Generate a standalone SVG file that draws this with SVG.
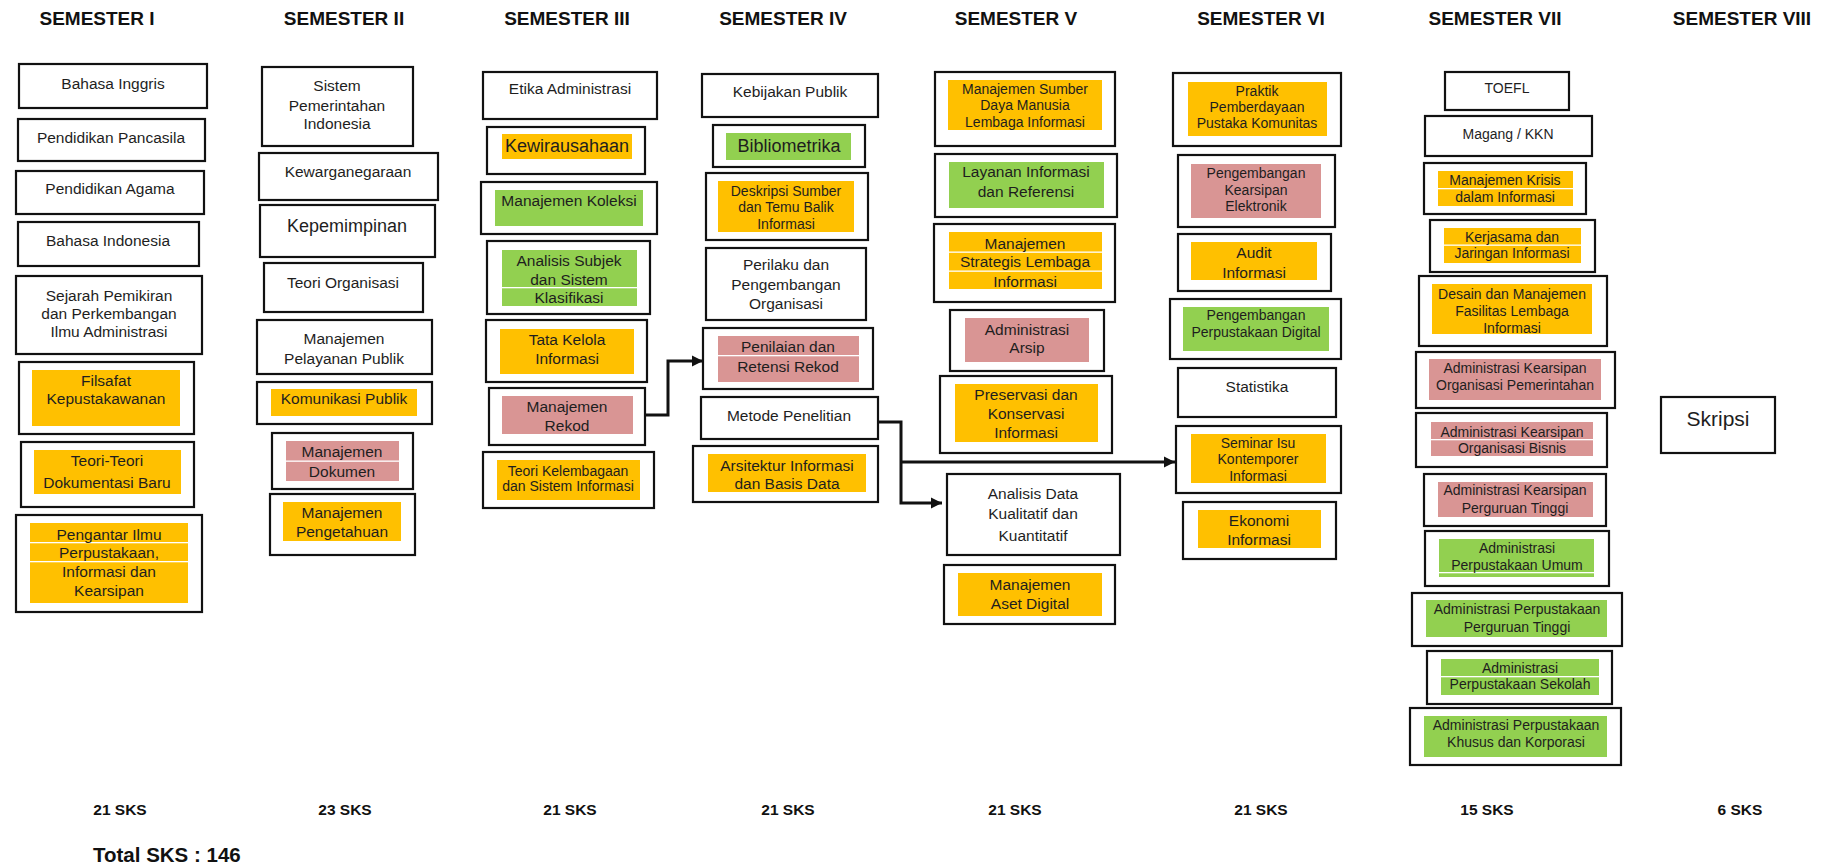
<svg xmlns="http://www.w3.org/2000/svg" width="1825" height="865" viewBox="0 0 1825 865">
<style>
.bg{fill:#fff}
.box{fill:#fff;stroke:#111;stroke-width:2.2}
.y{fill:#FFC000}
.g{fill:#92D050}
.p{fill:#D99594}
.sep{fill:#fff}
text{font-family:"Liberation Sans",Arial,sans-serif;fill:#1e1e1e;text-anchor:middle}
.t{font-size:15.5px}
.s{font-size:14px}
.l{font-size:18px}
.xl{font-size:21px}
.h{font-size:19px;font-weight:bold;fill:#111}
.k{font-size:15.5px;font-weight:bold;fill:#111}
.tot{font-size:20.5px;font-weight:bold;fill:#111;text-anchor:start}
.c{fill:none;stroke:#111;stroke-width:3}
</style>
<defs>
<marker id="ah" markerUnits="userSpaceOnUse" markerWidth="12" markerHeight="12" refX="11" refY="6" orient="auto">
<path d="M0,0.5 L11,6 L0,11.5 Z" fill="#111"/>
</marker>
</defs>
<rect class="bg" x="0" y="0" width="1825" height="865"/>

<g id="headers">
<text class="h" x="97" y="25">SEMESTER I</text>
<text class="h" x="344" y="25">SEMESTER II</text>
<text class="h" x="567" y="25">SEMESTER III</text>
<text class="h" x="783" y="25">SEMESTER IV</text>
<text class="h" x="1016" y="25">SEMESTER V</text>
<text class="h" x="1261" y="25">SEMESTER VI</text>
<text class="h" x="1495" y="25">SEMESTER VII</text>
<text class="h" x="1742" y="25">SEMESTER VIII</text>
</g>

<!-- Semester I -->
<g id="n1"><rect class="box" x="19" y="64" width="188" height="44"/><text class="t" x="113" y="88.5">Bahasa Inggris</text></g>
<g id="n2"><rect class="box" x="18" y="119" width="187" height="42"/><text class="t" x="111" y="142.5">Pendidikan Pancasila</text></g>
<g id="n3"><rect class="box" x="16" y="171" width="188" height="43"/><text class="t" x="110" y="193.5">Pendidikan Agama</text></g>
<g id="n4"><rect class="box" x="18" y="222" width="181" height="44"/><text class="t" x="108" y="245.5">Bahasa Indonesia</text></g>
<g id="n5"><rect class="box" x="16" y="276" width="186" height="78"/><text class="t" x="109"><tspan x="109" y="300.5">Sejarah Pemikiran</tspan><tspan x="109" y="318.5">dan Perkembangan</tspan><tspan x="109" y="336.5">Ilmu Administrasi</tspan></text></g>
<g id="n6"><rect class="box" x="19" y="362" width="175" height="72"/><rect class="y" x="32" y="370" width="148" height="56"/><text class="t" x="106"><tspan x="106" y="385.5">Filsafat</tspan><tspan x="106" y="403.5">Kepustakawanan</tspan></text></g>
<g id="n7"><rect class="box" x="21" y="442" width="173" height="65"/><rect class="y" x="34" y="450" width="147" height="44"/><text class="t" x="107"><tspan x="107" y="465.5">Teori-Teori</tspan><tspan x="107" y="487.5">Dokumentasi Baru</tspan></text></g>
<g id="n8"><rect class="box" x="16" y="515" width="186" height="97"/><rect class="y" x="30" y="523" width="158" height="80"/><rect class="sep" x="30" y="542" width="158" height="1.3"/><rect class="sep" x="30" y="561" width="158" height="1.3"/><text class="t" x="109"><tspan x="109" y="539.5">Pengantar Ilmu</tspan><tspan x="109" y="557.5">Perpustakaan,</tspan><tspan x="109" y="576.5">Informasi dan</tspan><tspan x="109" y="595.5">Kearsipan</tspan></text></g>

<!-- Semester II -->
<g id="n9"><rect class="box" x="262" y="67" width="151" height="79"/><text class="t" x="337"><tspan x="337" y="90.5">Sistem</tspan><tspan x="337" y="110.5">Pemerintahan</tspan><tspan x="337" y="128.5">Indonesia</tspan></text></g>
<g id="n10"><rect class="box" x="259" y="153" width="179" height="47"/><text class="t" x="348" y="176.5">Kewarganegaraan</text></g>
<g id="n11"><rect class="box" x="260" y="205" width="175" height="52"/><text class="l" x="347" y="231.5">Kepemimpinan</text></g>
<g id="n12"><rect class="box" x="264" y="263" width="159" height="49"/><text class="t" x="343" y="287.5">Teori Organisasi</text></g>
<g id="n13"><rect class="box" x="257" y="320" width="175" height="54"/><text class="t" x="344"><tspan x="344" y="343.5">Manajemen</tspan><tspan x="344" y="363.5">Pelayanan Publik</tspan></text></g>
<g id="n14"><rect class="box" x="257" y="382" width="175" height="42"/><rect class="y" x="271" y="389" width="146" height="27"/><text class="t" x="344" y="403.5">Komunikasi Publik</text></g>
<g id="n15"><rect class="box" x="272" y="433" width="141" height="56"/><rect class="p" x="286" y="441" width="113" height="40"/><rect class="sep" x="286" y="460.5" width="113" height="1.3"/><text class="t" x="342"><tspan x="342" y="456.5">Manajemen</tspan><tspan x="342" y="476.5">Dokumen</tspan></text></g>
<g id="n16"><rect class="box" x="270" y="494" width="145" height="61"/><rect class="y" x="283" y="502" width="118" height="39"/><text class="t" x="342"><tspan x="342" y="517.5">Manajemen</tspan><tspan x="342" y="536.5">Pengetahuan</tspan></text></g>

<!-- Semester III -->
<g id="n17"><rect class="box" x="483" y="72" width="174" height="47"/><text class="t" x="570" y="93.5">Etika Administrasi</text></g>
<g id="n18"><rect class="box" x="487" y="127" width="158" height="47"/><rect class="y" x="502" y="134" width="130" height="25"/><text class="l" x="567" y="152">Kewirausahaan</text></g>
<g id="n19"><rect class="box" x="481" y="182" width="176" height="52"/><rect class="g" x="495" y="190" width="148" height="36"/><text class="t" x="569" y="205.5">Manajemen Koleksi</text></g>
<g id="n20"><rect class="box" x="487" y="241" width="163" height="73"/><rect class="g" x="502" y="250" width="135" height="56"/><rect class="sep" x="502" y="287" width="135" height="1.3"/><text class="t" x="569"><tspan x="569" y="265.5">Analisis Subjek</tspan><tspan x="569" y="284.5">dan Sistem</tspan><tspan x="569" y="302.5">Klasifikasi</tspan></text></g>
<g id="n21"><rect class="box" x="486" y="320" width="161" height="62"/><rect class="y" x="500" y="329" width="134" height="45"/><text class="t" x="567"><tspan x="567" y="344.5">Tata Kelola</tspan><tspan x="567" y="363.5">Informasi</tspan></text></g>
<g id="n22"><rect class="box" x="489" y="388" width="156" height="57"/><rect class="p" x="502" y="396" width="131" height="38"/><text class="t" x="567"><tspan x="567" y="411.5">Manajemen</tspan><tspan x="567" y="430.5">Rekod</tspan></text></g>
<g id="n23"><rect class="box" x="483" y="452" width="171" height="56"/><rect class="y" x="497" y="460" width="143" height="40"/><text class="s" x="568"><tspan x="568" y="476">Teori Kelembagaan</tspan><tspan x="568" y="491">dan Sistem Informasi</tspan></text></g>

<!-- Semester IV -->
<g id="n24"><rect class="box" x="702" y="74" width="176" height="43"/><text class="t" x="790" y="96.5">Kebijakan Publik</text></g>
<g id="n25"><rect class="box" x="713" y="125" width="152" height="42"/><rect class="g" x="726" y="133" width="125" height="27"/><text class="l" x="789" y="151.5">Bibliometrika</text></g>
<g id="n26"><rect class="box" x="706" y="173" width="162" height="67"/><rect class="y" x="718" y="181" width="136" height="51"/><text class="s" x="786"><tspan x="786" y="196">Deskripsi Sumber</tspan><tspan x="786" y="212">dan Temu Balik</tspan><tspan x="786" y="229">Informasi</tspan></text></g>
<g id="n27"><rect class="box" x="706" y="248" width="160" height="72"/><text class="t" x="786"><tspan x="786" y="269.5">Perilaku dan</tspan><tspan x="786" y="289.5">Pengembangan</tspan><tspan x="786" y="308.5">Organisasi</tspan></text></g>
<g id="n28"><rect class="box" x="703" y="328" width="170" height="61"/><rect class="p" x="718" y="336" width="141" height="46"/><rect class="sep" x="718" y="355" width="141" height="1.3"/><text class="t" x="788"><tspan x="788" y="351.5">Penilaian dan</tspan><tspan x="788" y="371.5">Retensi Rekod</tspan></text></g>
<g id="n29"><rect class="box" x="701" y="397" width="177" height="42"/><text class="t" x="789" y="420.5">Metode Penelitian</text></g>
<g id="n30"><rect class="box" x="693" y="446" width="185" height="56"/><rect class="y" x="708" y="454" width="158" height="38"/><text class="t" x="787"><tspan x="787" y="470.5">Arsitektur Informasi</tspan><tspan x="787" y="488.5">dan Basis Data</tspan></text></g>

<!-- Semester V -->
<g id="n31"><rect class="box" x="935" y="72" width="180" height="74"/><rect class="y" x="948" y="80" width="154" height="50"/><text class="s" x="1025"><tspan x="1025" y="94">Manajemen Sumber</tspan><tspan x="1025" y="110">Daya Manusia</tspan><tspan x="1025" y="127">Lembaga Informasi</tspan></text></g>
<g id="n32"><rect class="box" x="935" y="154" width="182" height="63"/><rect class="g" x="949" y="162" width="155" height="46"/><text class="t" x="1026"><tspan x="1026" y="176.5">Layanan Informasi</tspan><tspan x="1026" y="196.5">dan Referensi</tspan></text></g>
<g id="n33"><rect class="box" x="934" y="224" width="181" height="78"/><rect class="y" x="949" y="232" width="153" height="57"/><rect class="sep" x="949" y="251.5" width="153" height="1.3"/><rect class="sep" x="949" y="270.5" width="153" height="1.3"/><text class="t" x="1025"><tspan x="1025" y="248.5">Manajemen</tspan><tspan x="1025" y="266.5">Strategis Lembaga</tspan><tspan x="1025" y="286.5">Informasi</tspan></text></g>
<g id="n34"><rect class="box" x="950" y="310" width="154" height="61"/><rect class="p" x="965" y="318" width="124" height="44"/><text class="t" x="1027"><tspan x="1027" y="334.5">Administrasi</tspan><tspan x="1027" y="352.5">Arsip</tspan></text></g>
<g id="n35"><rect class="box" x="940" y="376" width="172" height="77"/><rect class="y" x="955" y="384" width="143" height="58"/><text class="t" x="1026"><tspan x="1026" y="399.5">Preservasi dan</tspan><tspan x="1026" y="418.5">Konservasi</tspan><tspan x="1026" y="437.5">Informasi</tspan></text></g>
<g id="n36"><rect class="box" x="947" y="474" width="173" height="81"/><text class="t" x="1033"><tspan x="1033" y="498.5">Analisis Data</tspan><tspan x="1033" y="518.5">Kualitatif dan</tspan><tspan x="1033" y="540.5">Kuantitatif</tspan></text></g>
<g id="n37"><rect class="box" x="944" y="565" width="171" height="59"/><rect class="y" x="958" y="573" width="144" height="43"/><text class="t" x="1030"><tspan x="1030" y="589.5">Manajemen</tspan><tspan x="1030" y="608.5">Aset Digital</tspan></text></g>

<!-- Semester VI -->
<g id="n38"><rect class="box" x="1173" y="73" width="168" height="73"/><rect class="y" x="1188" y="82" width="139" height="54"/><text class="s" x="1257"><tspan x="1257" y="96">Praktik</tspan><tspan x="1257" y="112">Pemberdayaan</tspan><tspan x="1257" y="128">Pustaka Komunitas</tspan></text></g>
<g id="n39"><rect class="box" x="1178" y="155" width="157" height="72"/><rect class="p" x="1191" y="164" width="130" height="54"/><text class="s" x="1256"><tspan x="1256" y="178">Pengembangan</tspan><tspan x="1256" y="195">Kearsipan</tspan><tspan x="1256" y="211">Elektronik</tspan></text></g>
<g id="n40"><rect class="box" x="1178" y="234" width="153" height="57"/><rect class="y" x="1191" y="242" width="126" height="38"/><text class="t" x="1254"><tspan x="1254" y="257.5">Audit</tspan><tspan x="1254" y="277.5">Informasi</tspan></text></g>
<g id="n41"><rect class="box" x="1170" y="299" width="171" height="60"/><rect class="g" x="1183" y="307" width="146" height="44"/><text class="s" x="1256"><tspan x="1256" y="320">Pengembangan</tspan><tspan x="1256" y="337">Perpustakaan Digital</tspan></text></g>
<g id="n42"><rect class="box" x="1178" y="368" width="158" height="49"/><text class="t" x="1257" y="391.5">Statistika</text></g>
<g id="n43"><rect class="box" x="1176" y="426" width="165" height="67"/><rect class="y" x="1191" y="434" width="135" height="49"/><text class="s" x="1258"><tspan x="1258" y="448">Seminar Isu</tspan><tspan x="1258" y="464">Kontemporer</tspan><tspan x="1258" y="481">Informasi</tspan></text></g>
<g id="n44"><rect class="box" x="1183" y="502" width="153" height="57"/><rect class="y" x="1198" y="510" width="123" height="38"/><text class="t" x="1259"><tspan x="1259" y="525.5">Ekonomi</tspan><tspan x="1259" y="544.5">Informasi</tspan></text></g>

<!-- Semester VII -->
<g id="n45"><rect class="box" x="1445" y="72" width="124" height="38"/><text class="s" x="1507" y="93">TOEFL</text></g>
<g id="n46"><rect class="box" x="1425" y="116" width="167" height="40"/><text class="s" x="1508" y="139">Magang / KKN</text></g>
<g id="n47"><rect class="box" x="1424" y="163" width="162" height="51"/><rect class="y" x="1438" y="171" width="135" height="35"/><rect class="sep" x="1438" y="188" width="135" height="1.3"/><text class="s" x="1505"><tspan x="1505" y="185">Manajemen Krisis</tspan><tspan x="1505" y="202">dalam Informasi</tspan></text></g>
<g id="n48"><rect class="box" x="1430" y="220" width="165" height="52"/><rect class="y" x="1444" y="228" width="137" height="35"/><rect class="sep" x="1444" y="244.5" width="137" height="1.3"/><text class="s" x="1512"><tspan x="1512" y="242">Kerjasama dan</tspan><tspan x="1512" y="258">Jaringan Informasi</tspan></text></g>
<g id="n49"><rect class="box" x="1419" y="276" width="188" height="70"/><rect class="y" x="1432" y="284" width="160" height="50"/><text class="s" x="1512"><tspan x="1512" y="299">Desain dan Manajemen</tspan><tspan x="1512" y="316">Fasilitas Lembaga</tspan><tspan x="1512" y="333">Informasi</tspan></text></g>
<g id="n50"><rect class="box" x="1416" y="352" width="199" height="56"/><rect class="p" x="1429" y="359" width="172" height="41"/><text class="s" x="1515"><tspan x="1515" y="373">Administrasi Kearsipan</tspan><tspan x="1515" y="390">Organisasi Pemerintahan</tspan></text></g>
<g id="n51"><rect class="box" x="1416" y="413" width="191" height="54"/><rect class="p" x="1431" y="422" width="162" height="34"/><rect class="sep" x="1431" y="439" width="162" height="1.3"/><text class="s" x="1512"><tspan x="1512" y="437">Administrasi Kearsipan</tspan><tspan x="1512" y="453">Organisasi Bisnis</tspan></text></g>
<g id="n52"><rect class="box" x="1424" y="474" width="182" height="52"/><rect class="p" x="1438" y="482" width="155" height="35"/><text class="s" x="1515"><tspan x="1515" y="495">Administrasi Kearsipan</tspan><tspan x="1515" y="513">Perguruan Tinggi</tspan></text></g>
<g id="n53"><rect class="box" x="1425" y="531" width="184" height="55"/><rect class="g" x="1439" y="539" width="155" height="38"/><rect class="sep" x="1439" y="572" width="155" height="1.3"/><text class="s" x="1517"><tspan x="1517" y="553">Administrasi</tspan><tspan x="1517" y="570">Perpustakaan Umum</tspan></text></g>
<g id="n54"><rect class="box" x="1412" y="593" width="210" height="53"/><rect class="g" x="1426" y="600" width="181" height="37"/><text class="s" x="1517"><tspan x="1517" y="614">Administrasi Perpustakaan</tspan><tspan x="1517" y="632">Perguruan Tinggi</tspan></text></g>
<g id="n55"><rect class="box" x="1427" y="651" width="185" height="53"/><rect class="g" x="1441" y="659" width="158" height="36"/><rect class="sep" x="1441" y="676" width="158" height="1.3"/><text class="s" x="1520"><tspan x="1520" y="673">Administrasi</tspan><tspan x="1520" y="689">Perpustakaan Sekolah</tspan></text></g>
<g id="n56"><rect class="box" x="1410" y="708" width="211" height="57"/><rect class="g" x="1424" y="716" width="183" height="41"/><text class="s" x="1516"><tspan x="1516" y="730">Administrasi Perpustakaan</tspan><tspan x="1516" y="747">Khusus dan Korporasi</tspan></text></g>

<!-- Semester VIII -->
<g id="n57"><rect class="box" x="1661" y="397" width="114" height="56"/><text class="xl" x="1718" y="426">Skripsi</text></g>

<g id="connectors">
<path class="c" d="M645,415 H668 V361 H703" marker-end="url(#ah)"/>
<path class="c" d="M878,422 H901 V503 H942" marker-end="url(#ah)"/>
<path class="c" d="M901,462 H1175" marker-end="url(#ah)"/>
</g>

<g id="credits">
<text class="k" x="120" y="815">21 SKS</text>
<text class="k" x="345" y="815">23 SKS</text>
<text class="k" x="570" y="815">21 SKS</text>
<text class="k" x="788" y="815">21 SKS</text>
<text class="k" x="1015" y="815">21 SKS</text>
<text class="k" x="1261" y="815">21 SKS</text>
<text class="k" x="1487" y="815">15 SKS</text>
<text class="k" x="1740" y="815">6 SKS</text>
<text class="tot" x="93" y="862">Total SKS : 146</text>
</g>
</svg>
